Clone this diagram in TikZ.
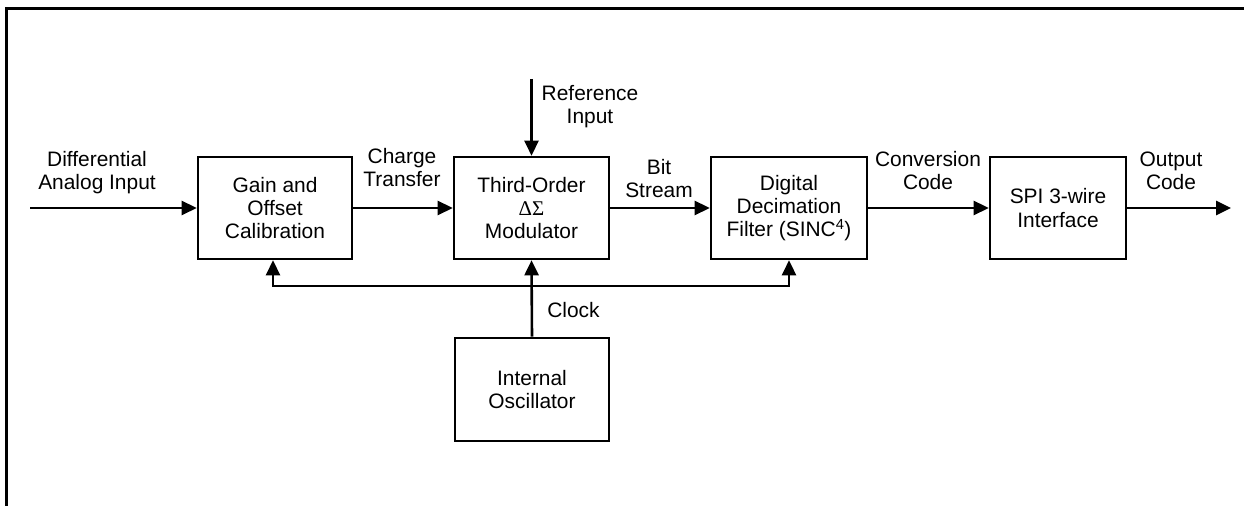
\documentclass[tikz,border=0pt]{standalone}
\usepackage{fontspec}
\setmainfont{Liberation Sans}
\newfontfamily\greekfont{Liberation Serif}
\usetikzlibrary{arrows.meta}
\begin{document}
\begin{tikzpicture}[x=1bp,y=-1bp,
  every node/.style={font=\fontsize{21}{23.5}\selectfont},
  blk/.style={draw,line width=2.6bp,align=center,inner sep=0pt},
  lbl/.style={align=center,inner sep=0pt,anchor=base},
  wire/.style={line width=2.6bp},
  arr/.style={wire,-{Triangle[length=15bp,width=14bp]}}]
\useasboundingbox (0,0) rectangle (1244,506);
% frame
\draw[line width=3bp] (6.5,506) -- (6.5,9) -- (1244,9);
% blocks
\node[blk,minimum width=154bp,minimum height=102bp] (gain) at (275,208) {Gain and\\Offset\\Calibration};
\node[blk,minimum width=155bp,minimum height=102bp] (mod) at (531.5,208) {Third-Order\\{\greekfont ΔΣ}\\Modulator};
\node[blk,minimum width=156bp,minimum height=102bp] (dig) at (789,208) {Digital\\Decimation\\Filter (SINC\textsuperscript{4})};
\node[blk,minimum width=136bp,minimum height=102bp] (spi) at (1058,208) {SPI 3-wire\\Interface};
\node[blk,minimum width=154bp,minimum height=103bp] (osc) at (532,389.5) {Internal\\Oscillator};
% labels (anchor = baseline of last line)
\node[lbl] (l1) at (97,190) {Differential\\Analog Input};
\node[lbl] (l2) at (402,187) {Charge\\Transfer};
\node[lbl] (l3) at (659,198) {Bit\\Stream};
\node[lbl] (l4) at (928,190) {Conversion\\Code};
\node[lbl] (l5) at (1171,190) {Output\\Code};
\node[lbl] (l6) at (590,124) {Reference\\Input};
\node[lbl] (l7) at (573.5,318) {Clock};
% coordinates
\coordinate (in) at (30,208);
\coordinate (out) at (1231,208);
\coordinate (ref) at (531.5,79);
\coordinate (busL) at (273,286);
\coordinate (busM) at (531.5,286);
\coordinate (busR) at (789,286);
% connectors
\draw[arr] (in) -- (gain.west);
\draw[arr] (gain.east) -- (mod.west);
\draw[arr] (mod.east) -- (dig.west);
\draw[arr] (dig.east) -- (spi.west);
\draw[arr] (spi.east) -- (out);
\draw[arr] (ref) -- (mod.north);
\draw[arr] (osc.north) -- (mod.south);
\draw[arr] (busM) -- (busL) -- (busL |- gain.south);
\draw[arr] (busM) -- (busR) -- (dig.south);
\end{tikzpicture}
\end{document}
